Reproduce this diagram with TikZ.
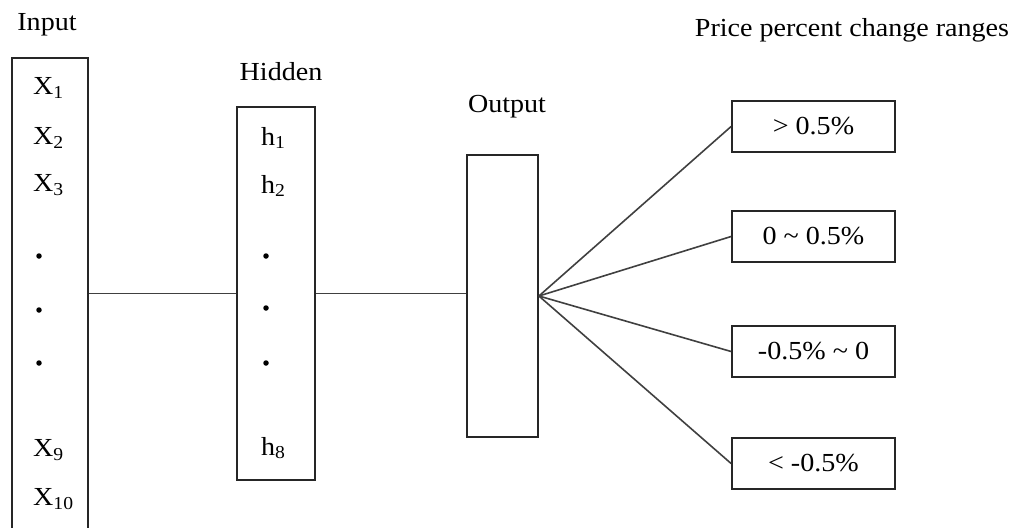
\documentclass[tikz,border=0pt]{standalone}
\usepackage{fontspec}
\setmainfont{Liberation Serif}[FakeStretch=1.08]
\begin{document}
\begin{tikzpicture}[x=1pt,y=-1pt,
  box/.style={draw=black!85, line width=1.8pt, rectangle, inner sep=0pt},
  conn/.style={draw=black!75, line width=1.6pt},
  lbl/.style={inner sep=0pt, font=\fontsize{26}{30}\selectfont},
  dotn/.style={circle, fill=black, inner sep=0pt, minimum size=5.5pt}]
\useasboundingbox (0,0) rectangle (1024,527);
\begin{scope}
\clip (0,0) rectangle (1024,527);
% titles
\node[lbl] (tin) at (47,25) {Input};
\node[lbl] (thid) at (281,72) {Hidden};
\node[lbl] (tout) at (507,107) {Output};
\node[lbl] (tprice) at (852,30) {Price percent change ranges};
% boxes
\node[box, minimum width=76pt, minimum height=484pt] (inbox) at (50,300) {};
\node[box, minimum width=78pt, minimum height=373pt] (hbox) at (276,293.5) {};
\node[box, minimum width=71pt, minimum height=282pt] (obox) at (502.5,296) {};
% input labels
\node[lbl, anchor=west] (x1) at (33,88) {X\textsubscript{1}};
\node[lbl, anchor=west] (x2) at (33,138) {X\textsubscript{2}};
\node[lbl, anchor=west] (x3) at (33,185) {X\textsubscript{3}};
\node[dotn] (xd1) at (39,256) {};
\node[dotn] (xd2) at (39,310) {};
\node[dotn] (xd3) at (39,363) {};
\node[lbl, anchor=west] (x9) at (33,450) {X\textsubscript{9}};
\node[lbl, anchor=west] (x10) at (33,499) {X\textsubscript{10}};
% hidden labels
\node[lbl, anchor=west] (h1) at (261,138) {h\textsubscript{1}};
\node[lbl, anchor=west] (h2) at (261,186) {h\textsubscript{2}};
\node[dotn] (hd1) at (266,256) {};
\node[dotn] (hd2) at (266,308) {};
\node[dotn] (hd3) at (266,363) {};
\node[lbl, anchor=west] (h8) at (261,448) {h\textsubscript{8}};
% output ranges
\node[box, minimum width=163pt, minimum height=51pt, font=\fontsize{26}{30}\selectfont] (r1) at (813.5,126.5) {> 0.5\%};
\node[box, minimum width=163pt, minimum height=51pt, font=\fontsize{26}{30}\selectfont] (r2) at (813.5,236.5) {0 \textasciitilde{} 0.5\%};
\node[box, minimum width=163pt, minimum height=51pt, font=\fontsize{26}{30}\selectfont] (r3) at (813.5,351.5) {-0.5\% \textasciitilde{} 0};
\node[box, minimum width=163pt, minimum height=51pt, font=\fontsize{26}{30}\selectfont] (r4) at (813.5,463.5) {< -0.5\%};
% connectors
\draw[conn] (inbox.east |- hbox.west) -- (hbox.west);
\draw[conn] (hbox.east) -- (obox.west |- hbox.east);
\draw[conn] (obox.east) -- (r1.west);
\draw[conn] (obox.east) -- (r2.west);
\draw[conn] (obox.east) -- (r3.west);
\draw[conn] (obox.east) -- (r4.west);
\end{scope}
\end{tikzpicture}
\end{document}
